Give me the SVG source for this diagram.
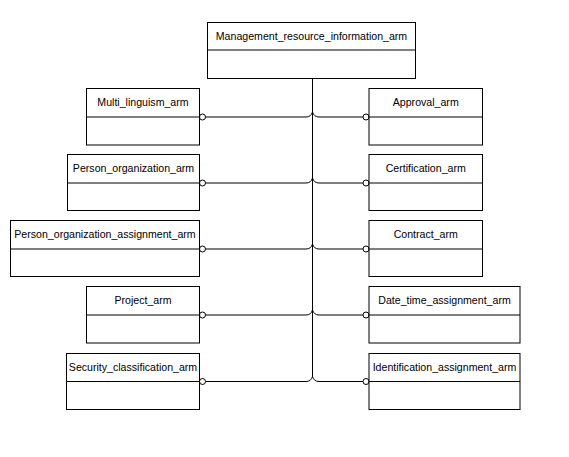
<svg xmlns="http://www.w3.org/2000/svg" width="569" height="457" viewBox="0 0 569 457">
<style>
.box{fill:#fff;stroke:#000;stroke-width:1}
.div{stroke:#000;stroke-width:1}
.lbl{font-family:"Liberation Sans",Arial,sans-serif;font-size:10.6px;fill:#000;text-anchor:middle}
.con{fill:none;stroke:#000;stroke-width:1}
.end{fill:#fff;stroke:#000;stroke-width:1}
</style>
<rect width="569" height="457" fill="#fff"/>
<g id="connectors">
<path class="con" d="M312.5,78.5 V377"/>
<path class="con" d="M312.5,112 Q311,117 306,117 H205.5 M312.5,112 Q314,117 319,117 H363"/>
<path class="con" d="M312.5,178 Q311,183 306,183 H205.5 M312.5,178 Q314,183 319,183 H363"/>
<path class="con" d="M312.5,244 Q311,249 306,249 H205.5 M312.5,244 Q314,249 319,249 H363"/>
<path class="con" d="M312.5,310 Q311,315 306,315 H205.5 M312.5,310 Q314,315 319,315 H363"/>
<path class="con" d="M312.5,376.5 Q311,381.5 306,381.5 H205.5 M312.5,376.5 Q314,381.5 319,381.5 H363"/>
<circle class="end" cx="202.5" cy="117" r="3"/>
<circle class="end" cx="202.5" cy="183" r="3"/>
<circle class="end" cx="202.5" cy="249" r="3"/>
<circle class="end" cx="202.5" cy="315" r="3"/>
<circle class="end" cx="202.5" cy="381.5" r="3"/>
<circle class="end" cx="366" cy="117" r="3"/>
<circle class="end" cx="366" cy="183" r="3"/>
<circle class="end" cx="366" cy="249" r="3"/>
<circle class="end" cx="366" cy="315" r="3"/>
<circle class="end" cx="366" cy="381.5" r="3"/>
</g>
<g id="management_resource_information_arm">
<rect class="box" x="207.5" y="22.5" width="208" height="56"/>
<line class="div" x1="207.5" y1="50" x2="415.5" y2="50"/>
<text class="lbl" x="311.5" y="40">Management_resource_information_arm</text>
</g>
<g id="multi_linguism_arm">
<rect class="box" x="86.5" y="88.5" width="113" height="56.5"/>
<line class="div" x1="86.5" y1="117" x2="199.5" y2="117"/>
<text class="lbl" x="143" y="106">Multi_linguism_arm</text>
</g>
<g id="person_organization_arm">
<rect class="box" x="67.5" y="154.5" width="132" height="56"/>
<line class="div" x1="67.5" y1="183" x2="199.5" y2="183"/>
<text class="lbl" x="133.5" y="172">Person_organization_arm</text>
</g>
<g id="person_organization_assignment_arm">
<rect class="box" x="10.5" y="220.5" width="189" height="56"/>
<line class="div" x1="10.5" y1="249" x2="199.5" y2="249"/>
<text class="lbl" x="105" y="238">Person_organization_assignment_arm</text>
</g>
<g id="project_arm">
<rect class="box" x="86.5" y="286.5" width="113" height="56.5"/>
<line class="div" x1="86.5" y1="315" x2="199.5" y2="315"/>
<text class="lbl" x="143" y="304">Project_arm</text>
</g>
<g id="security_classification_arm">
<rect class="box" x="66.5" y="353.5" width="133" height="56"/>
<line class="div" x1="66.5" y1="381.5" x2="199.5" y2="381.5"/>
<text class="lbl" x="133" y="371">Security_classification_arm</text>
</g>
<g id="approval_arm">
<rect class="box" x="369" y="88.5" width="113.5" height="56.5"/>
<line class="div" x1="369" y1="117" x2="482.5" y2="117"/>
<text class="lbl" x="425.75" y="106">Approval_arm</text>
</g>
<g id="certification_arm">
<rect class="box" x="369" y="154.5" width="113.5" height="56"/>
<line class="div" x1="369" y1="183" x2="482.5" y2="183"/>
<text class="lbl" x="425.75" y="172">Certification_arm</text>
</g>
<g id="contract_arm">
<rect class="box" x="369" y="220.5" width="113.5" height="56"/>
<line class="div" x1="369" y1="249" x2="482.5" y2="249"/>
<text class="lbl" x="425.75" y="238">Contract_arm</text>
</g>
<g id="date_time_assignment_arm">
<rect class="box" x="369" y="286.5" width="151" height="56.5"/>
<line class="div" x1="369" y1="315" x2="520" y2="315"/>
<text class="lbl" x="444.5" y="304">Date_time_assignment_arm</text>
</g>
<g id="identification_assignment_arm">
<rect class="box" x="369" y="353.5" width="151" height="56"/>
<line class="div" x1="369" y1="381.5" x2="520" y2="381.5"/>
<text class="lbl" x="444.5" y="371">Identification_assignment_arm</text>
</g>
</svg>
